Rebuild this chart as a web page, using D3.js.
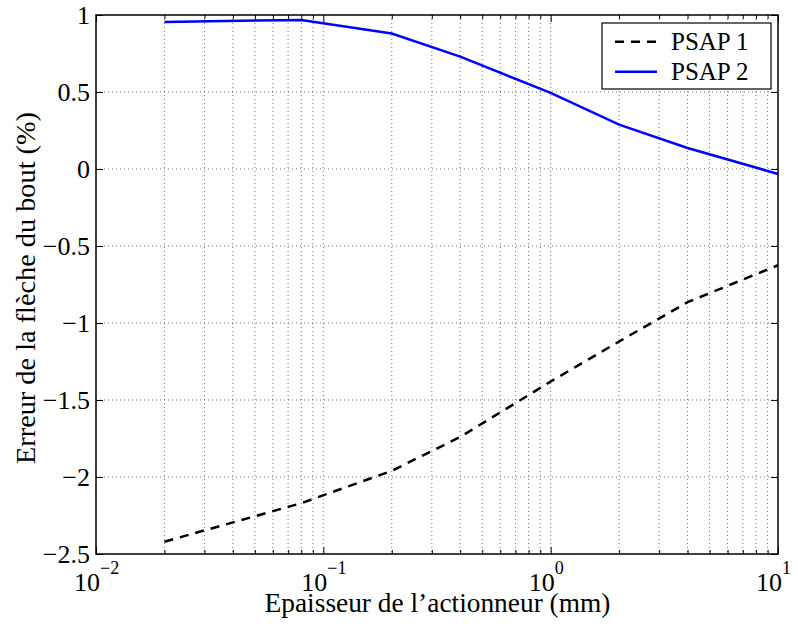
<!DOCTYPE html>
<html>
<head>
<meta charset="utf-8">
<script src="https://cdn.jsdelivr.net/npm/d3@7"></script>
<style>
  html, body { margin: 0; padding: 0; background: #fff; }
  svg { display: block; }
</style>
</head>
<body>
<svg id="chart" width="798" height="626"></svg>
<script>
// ---- data ----
const thickness = [0.02, 0.08, 0.2, 0.4, 1, 2, 4, 10];
const psap1 = [-2.42, -2.17, -1.96, -1.74, -1.38, -1.12, -0.865, -0.625];
const psap2 = [0.955, 0.968, 0.88, 0.73, 0.494, 0.288, 0.136, -0.032];
const seriesNames = ["PSAP 1", "PSAP 2"];
const yTicks = [-2.5, -2, -1.5, -1, -0.5, 0, 0.5, 1];
const xDecades = [-2, -1, 0, 1];
const xLabel = "Epaisseur de l\u2019actionneur (mm)";
const yLabel = "Erreur de la fl\u00e8che du bout (%)";

// ---- layout ----
const L = 96, R = 778, T = 15, B = 554;
const SERIF = '"Liberation Serif"';
const svg = d3.select("#chart");
const x = d3.scaleLog().domain([0.01, 10]).range([L, R]);
const y = d3.scaleLinear().domain([-2.5, 1]).range([B, T]);

const minor = [];
for (let d = -2; d < 1; d++) for (let k = 2; k <= 9; k++) minor.push(k * Math.pow(10, d));
const major = xDecades.map(d => Math.pow(10, d));

const grid = svg.append("g");
grid.selectAll("line.vx").data(minor.concat(major.slice(1, -1))).enter().append("line")
  .attr("x1", d => x(d)).attr("x2", d => x(d)).attr("y1", T).attr("y2", B)
  .attr("stroke", "#000").attr("stroke-opacity", 0.55).attr("stroke-width", 1)
  .attr("stroke-dasharray", "1,3");
grid.selectAll("line.hy").data(yTicks.slice(1, -1)).enter().append("line")
  .attr("x1", L).attr("x2", R).attr("y1", d => y(d)).attr("y2", d => y(d))
  .attr("stroke", "#000").attr("stroke-opacity", 0.55).attr("stroke-width", 1)
  .attr("stroke-dasharray", "1,3");

const line = d3.line().x(d => x(d[0])).y(d => y(d[1]));
svg.append("path").datum(thickness.map((t, i) => [t, psap1[i]]))
  .attr("d", line).attr("fill", "none").attr("stroke", "#000")
  .attr("stroke-width", 2.5).attr("stroke-dasharray", "9,7");
svg.append("path").datum(thickness.map((t, i) => [t, psap2[i]]))
  .attr("d", line).attr("fill", "none").attr("stroke", "#0000ff")
  .attr("stroke-width", 2.5);

const tickLen = 7, minorLen = 4;
const axB = d3.axisBottom(x).tickValues(major).tickSize(-tickLen).tickFormat("");
const axT = d3.axisTop(x).tickValues(major).tickSize(-tickLen).tickFormat("");
const axL = d3.axisLeft(y).tickValues(yTicks).tickSize(-tickLen).tickFormat("");
const axR = d3.axisRight(y).tickValues(yTicks).tickSize(-tickLen).tickFormat("");
const axBm = d3.axisBottom(x).tickValues(minor).tickSize(-minorLen).tickFormat("");
const axTm = d3.axisTop(x).tickValues(minor).tickSize(-minorLen).tickFormat("");
function styleAxis(g) {
  g.select(".domain").remove();
  g.selectAll("line").attr("stroke", "#000").attr("stroke-width", 1);
}
svg.append("g").attr("transform", `translate(0,${B})`).call(axB).call(styleAxis);
svg.append("g").attr("transform", `translate(0,${T})`).call(axT).call(styleAxis);
svg.append("g").attr("transform", `translate(0,${B})`).call(axBm).call(styleAxis);
svg.append("g").attr("transform", `translate(0,${T})`).call(axTm).call(styleAxis);
svg.append("g").attr("transform", `translate(${L},0)`).call(axL).call(styleAxis);
svg.append("g").attr("transform", `translate(${R},0)`).call(axR).call(styleAxis);

svg.append("rect").attr("x", L).attr("y", T).attr("width", R - L).attr("height", B - T)
  .attr("fill", "none").attr("stroke", "#000").attr("stroke-width", 1.5);

// y tick labels
const fmtY = v => (v < 0 ? "\u2212" : "") + Math.abs(v);
svg.append("g").selectAll("text").data(yTicks).enter().append("text")
  .style("font-family", SERIF).attr("fill", "#000")
  .attr("x", L - 6).attr("y", d => y(d) + 9)
  .attr("text-anchor", "end").attr("font-size", 26)
  .text(fmtY);

// x tick labels 10^n
const xg = svg.append("g").selectAll("g").data(xDecades).enter().append("g")
  .attr("transform", d => `translate(${x(Math.pow(10, d))},0)`);
xg.append("text").style("font-family", SERIF).attr("x", 4).attr("y", 591)
  .attr("text-anchor", "end").attr("font-size", 26).text("10");
xg.append("text").style("font-family", SERIF).attr("x", 4).attr("y", 574)
  .attr("text-anchor", "start").attr("font-size", 18)
  .text(d => (d < 0 ? "\u2212" : "") + Math.abs(d));

// axis labels, sized to the reference's extents
function fit(sel, target) {
  const w = sel.node().getComputedTextLength();
  const fs = +sel.attr("font-size");
  sel.attr("font-size", (fs * target / w).toFixed(2));
}
const xl = svg.append("text").style("font-family", SERIF).attr("x", 437.5).attr("y", 612)
  .attr("text-anchor", "middle").attr("font-size", 26).text(xLabel);
fit(xl, 346);
const yl = svg.append("text").style("font-family", SERIF)
  .attr("transform", `translate(35,288) rotate(-90)`)
  .attr("text-anchor", "middle").attr("font-size", 26).text(yLabel);
fit(yl, 352);

// legend
const lg = svg.append("g");
lg.append("rect").attr("x", 602).attr("y", 23).attr("width", 169).attr("height", 66)
  .attr("fill", "#fff").attr("stroke", "#000").attr("stroke-width", 1.2);
const legendStyles = [
  { color: "#000", dash: "9,7" },
  { color: "#0000ff", dash: null }
];
seriesNames.forEach((name, i) => {
  const yy = 41.7 + i * 30;
  lg.append("line").attr("x1", 615).attr("x2", 657).attr("y1", yy).attr("y2", yy)
    .attr("stroke", legendStyles[i].color).attr("stroke-width", 2.5)
    .attr("stroke-dasharray", legendStyles[i].dash);
  lg.append("text").style("font-family", SERIF).attr("x", 671).attr("y", yy + 8.5)
    .attr("font-size", 25).text(name);
});
</script>
</body>
</html>
